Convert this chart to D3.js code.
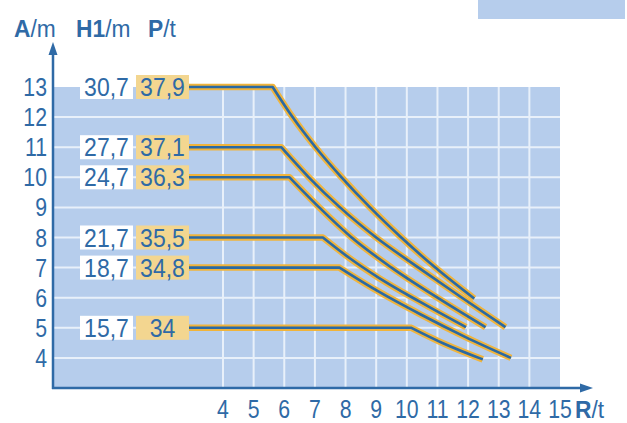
<!DOCTYPE html>
<html lang="de">
<head>
    <meta charset="UTF-8">
    <title>Lastkurven</title>
    <script src="https://d3js.org/d3.v7.min.js"></script>
    <style>
        body { margin: 0; background: #fff; }
        text { font-family: "Liberation Sans", Arial, sans-serif; fill: #2f6aa6; }
        .bold { font-weight: bold; }
    </style>
</head>
<body>
    <svg id="chart" width="627" height="423"></svg>

    <script>
        // Data
        const levelA = [13, 11, 10, 8, 7, 5];
        const boomH1 = ["30,7", "27,7", "24,7", "21,7", "18,7", "15,7"];
        const loadP = ["37,9", "37,1", "36,3", "35,5", "34,8", "34"];

        // [R, A] points from the knee to the end of each curve
        const curves = [
            [[5.62, 13], [6.27, 12], [7.02, 11], [7.87, 10], [8.8, 9], [9.82, 8], [10.93, 7], [12.2, 5.97]],
            [[5.9, 11], [6.8, 10], [7.82, 9], [9.0, 8], [10.38, 7], [11.8, 6], [13.22, 5.02]],
            [[6.17, 10], [7.14, 9], [8.2, 8], [9.5, 7], [11.0, 6], [12.57, 5.02]],
            [[7.26, 8], [8.15, 7.3], [9.1, 6.65], [10.45, 5.85], [11.93, 5.02]],
            [[7.8, 7], [9.0, 6.25], [10.44, 5.45], [11.9, 4.7], [13.4, 4.0]],
            [[10.15, 5], [11.2, 4.48], [12.48, 3.95]]
        ];

        const yTicks = [4, 5, 6, 7, 8, 9, 10, 11, 12, 13];
        const xTicks = [4, 5, 6, 7, 8, 9, 10, 11, 12, 13, 14, 15];

        const svg = d3.select("#chart");
        const blue = "#2f6aa6";

        const x = d3.scaleLinear().domain([4, 15]).range([223, 560]);
        const y = d3.scaleLinear().domain([3, 13]).range([388, 87]);
        const axisX = 53;          // y axis position
        const boxEnd = 189;        // right edge of the P/t boxes

        // narrow text: the original uses a condensed face
        function label(sel, px, py, sx, size, anchor) {
            return sel.append("text")
                .attr("transform", `translate(${px},${py}) scale(${sx},1)`)
                .attr("text-anchor", anchor)
                .attr("font-size", size);
        }

        // stray box in the top right corner
        svg.append("rect")
            .attr("x", 478).attr("y", 0)
            .attr("width", 147).attr("height", 19)
            .attr("fill", "#b6cdec");

        // plot background
        svg.append("rect")
            .attr("x", axisX).attr("y", y(13))
            .attr("width", x(15) - axisX).attr("height", y(3) - y(13))
            .attr("fill", "#b6cdec");

        // grid
        svg.selectAll(".hgrid")
            .data(yTicks.filter(d => d < 13))
            .enter().append("line")
            .attr("x1", axisX).attr("x2", x(15))
            .attr("y1", d => y(d)).attr("y2", d => y(d))
            .attr("stroke", "#e8f0fa").attr("stroke-width", 2);

        svg.selectAll(".vgrid")
            .data(xTicks.filter(d => d < 15))
            .enter().append("line")
            .attr("x1", d => x(d)).attr("x2", d => x(d))
            .attr("y1", y(13)).attr("y2", y(3))
            .attr("stroke", "#e8f0fa").attr("stroke-width", 2);

        // label boxes
        levelA.forEach((a, i) => {
            svg.append("rect")
                .attr("x", 80).attr("y", y(a) - 12)
                .attr("width", 53).attr("height", 24)
                .attr("fill", "#ffffff");
            svg.append("rect")
                .attr("x", 136).attr("y", y(a) - 12)
                .attr("width", 53).attr("height", 24)
                .attr("fill", "#f3d690");
            label(svg, 106.5, y(a) + 9, 0.92, 25, "middle").text(boomH1[i]);
            label(svg, 162.5, y(a) + 9, 0.92, 25, "middle").text(loadP[i]);
        });

        // curves: horizontal run from the box, then the descending part
        const line = d3.line()
            .x(d => x(d[0]))
            .y(d => y(d[1]))
            .curve(d3.curveMonotoneX);

        const pathFor = (pts, i) => "M" + boxEnd + "," + y(levelA[i]) + "L" + line(pts).slice(1);

        svg.selectAll(".edge")
            .data(curves)
            .enter().append("path")
            .attr("d", pathFor)
            .attr("fill", "none")
            .attr("stroke", "#f0b43c")
            .attr("stroke-width", 6.5)
            .attr("stroke-linejoin", "round");

        svg.selectAll(".core")
            .data(curves)
            .enter().append("path")
            .attr("d", pathFor)
            .attr("fill", "none")
            .attr("stroke", "#2a69a3")
            .attr("stroke-width", 2.6)
            .attr("stroke-linejoin", "round");

        // axes with arrows
        svg.append("line")
            .attr("x1", axisX).attr("x2", axisX)
            .attr("y1", y(3) + 1).attr("y2", 52)
            .attr("stroke", blue).attr("stroke-width", 2.5);
        svg.append("path")
            .attr("d", `M${axisX},42 L${axisX - 4.5},55 L${axisX + 4.5},55 Z`)
            .attr("fill", blue);

        svg.append("line")
            .attr("x1", axisX - 1).attr("x2", 582)
            .attr("y1", y(3)).attr("y2", y(3))
            .attr("stroke", blue).attr("stroke-width", 2.5);
        svg.append("path")
            .attr("d", `M593,${y(3)} L580,${y(3) - 4.5} L580,${y(3) + 4.5} Z`)
            .attr("fill", blue);

        // tick labels
        yTicks.forEach(v => label(svg, 47, y(v) + 9, 0.85, 25, "end").text(v));
        xTicks.forEach(v => label(svg, x(v), 418, 0.85, 25, "middle").text(v));

        // headers
        const header = (px, py, boldPart, rest) => {
            const t = label(svg, px, py, 0.95, 24, "start");
            t.append("tspan").attr("class", "bold").text(boldPart);
            t.append("tspan").text(rest);
        };
        header(14, 37, "A", "/m");
        header(76, 37, "H1", "/m");
        header(148, 37, "P", "/t");
        header(575, 418, "R", "/t");
    </script>
</body>
</html>
